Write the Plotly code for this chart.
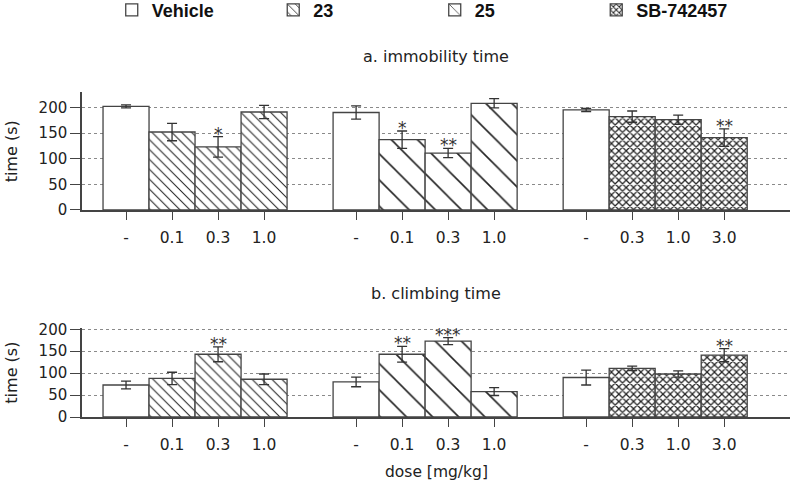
import plotly.graph_objects as go

# ---------------- data ----------------
series_names = ["Vehicle", "23", "25", "SB-742457"]
dose_labels_23 = ["0.1", "0.3", "1.0"]
dose_labels_25 = ["0.1", "0.3", "1.0"]
dose_labels_sb = ["0.3", "1.0", "3.0"]

# a. immobility time  (vehicle in each of the 3 experiments)
immob_vehicle = [202, 190, 195]
immob_vehicle_err = [3, 13, 3]
immob_23 = [152, 123, 191]
immob_23_err = [17, 20, 13]
immob_25 = [137, 111, 208]
immob_25_err = [17, 9, 9]
immob_sb = [182, 176, 141]
immob_sb_err = [11, 9, 17]
immob_sig_23 = ["", "*", ""]
immob_sig_25 = ["*", "**", ""]
immob_sig_sb = ["", "", "**"]

# b. climbing time
climb_vehicle = [73, 80, 90]
climb_vehicle_err = [9, 11, 17]
climb_23 = [88, 143, 86]
climb_23_err = [14, 17, 12]
climb_25 = [143, 173, 58]
climb_25_err = [18, 8, 9]
climb_sb = [111, 98, 141]
climb_sb_err = [5, 7, 15]
climb_sig_23 = ["", "**", ""]
climb_sig_25 = ["**", "***", ""]
climb_sig_sb = ["", "", "**"]

# ---------------- positions (layout) ----------------
GROUP_STEP = 5
veh_x = [g * GROUP_STEP for g in range(3)]
x23 = [0 * GROUP_STEP + i for i in (1, 2, 3)]
x25 = [1 * GROUP_STEP + i for i in (1, 2, 3)]
xsb = [2 * GROUP_STEP + i for i in (1, 2, 3)]
tickvals = sorted(veh_x + x23 + x25 + xsb)
ticktext = ["-"] + dose_labels_23 + ["-"] + dose_labels_25 + ["-"] + dose_labels_sb

EDGE = "#444444"
ERRC = "#333333"
FONT = "DejaVu Sans"

styles = {
    "Vehicle": dict(shape="", size=8, solidity=0.2),
    "23": dict(shape="\\", size=7, solidity=0.15),
    "25": dict(shape="\\", size=18.5, solidity=0.085),
    "SB-742457": dict(shape="x", size=5.2, solidity=0.42),
}

fig = go.Figure()


def add_bars(name, xs, ys, errs, yaxis, showlegend):
    st = styles[name]
    fig.add_trace(go.Bar(
        x=xs, y=ys, width=1, name=name, showlegend=showlegend,
        xaxis="x" if yaxis == "y" else "x2", yaxis=yaxis,
        legendgroup=name,
        marker=dict(
            color="white",
            line=dict(color=EDGE, width=1.3),
            pattern=dict(shape=st["shape"], size=st["size"], solidity=st["solidity"],
                         fgcolor="#222222", fgopacity=1, bgcolor="white",
                         fillmode="overlay"),
        ),
        error_y=dict(type="data", array=errs, visible=True, color=ERRC,
                     thickness=1.3, width=5),
    ))


for yaxis, data, show in [
    ("y", (immob_vehicle, immob_vehicle_err, immob_23, immob_23_err,
           immob_25, immob_25_err, immob_sb, immob_sb_err), True),
    ("y2", (climb_vehicle, climb_vehicle_err, climb_23, climb_23_err,
            climb_25, climb_25_err, climb_sb, climb_sb_err), False),
]:
    v, ve, a, ae, b, be, s, se = data
    add_bars("Vehicle", veh_x, v, ve, yaxis, show)
    add_bars("23", x23, a, ae, yaxis, show)
    add_bars("25", x25, b, be, yaxis, show)
    add_bars("SB-742457", xsb, s, se, yaxis, show)

# significance asterisks
annotations = []
for yref, xref, groups in [
    ("y", "x", [(x23, immob_23, immob_23_err, immob_sig_23),
                (x25, immob_25, immob_25_err, immob_sig_25),
                (xsb, immob_sb, immob_sb_err, immob_sig_sb)]),
    ("y2", "x2", [(x23, climb_23, climb_23_err, climb_sig_23),
                  (x25, climb_25, climb_25_err, climb_sig_25),
                  (xsb, climb_sb, climb_sb_err, climb_sig_sb)]),
]:
    for xs, ys, es, sigs in groups:
        for xx, yy, ee, sg in zip(xs, ys, es, sigs):
            if sg:
                annotations.append(dict(
                    x=xx, y=yy + ee, xref=xref, yref=yref, text=sg,
                    showarrow=False, yanchor="bottom", yshift=-9,
                    font=dict(family=FONT, size=17, color="#333333")))

# titles / axis labels
TXT = "#222222"
annotations += [
    dict(text="a. immobility time", x=0.5, y=1.108, xref="paper", yref="paper",
         showarrow=False, xanchor="center", yanchor="middle",
         font=dict(family=FONT, size=16, color=TXT)),
    dict(text="b. climbing time", x=0.5, y=0.3815, xref="paper", yref="paper",
         showarrow=False, xanchor="center", yanchor="middle",
         font=dict(family=FONT, size=16, color=TXT)),
    dict(text="dose [mg/kg]", x=0.5, y=-0.169, xref="paper", yref="paper",
         showarrow=False, xanchor="center", yanchor="middle",
         font=dict(family=FONT, size=15.5, color=TXT)),
    dict(text="time (s)", x=-0.1, y=0.818, xref="paper", yref="paper",
         showarrow=False, xanchor="center", yanchor="middle", textangle=-90,
         font=dict(family=FONT, size=16, color=TXT)),
    dict(text="time (s)", x=-0.1, y=0.137, xref="paper", yref="paper",
         showarrow=False, xanchor="center", yanchor="middle", textangle=-90,
         font=dict(family=FONT, size=16, color=TXT)),
]

xcommon = dict(range=[-0.957, 14.43], tickvals=tickvals, ticktext=ticktext,
               showgrid=False, zeroline=False, showline=True, linecolor=EDGE,
               linewidth=1.5, ticks="outside", ticklen=8, tickcolor=EDGE,
               tickwidth=1.3, ticklabelstandoff=5,
               tickfont=dict(family=FONT, size=15.5, color=TXT))
ycommon = dict(showgrid=True, gridcolor="#8a8a8a", griddash="dot", gridwidth=1,
               zeroline=False, showline=True, linecolor=EDGE, linewidth=1.5,
               ticks="outside", ticklen=10, tickcolor=EDGE, tickwidth=1.3,
               tickvals=[0, 50, 100, 150, 200],
               tickfont=dict(family=FONT, size=15, color=TXT))

TOP_DOM = [0.637, 1.0]
BOT_DOM = [0.0, 0.274]

fig.update_layout(
    width=793, height=486,
    margin=dict(l=82, r=3, t=92, b=69, autoexpand=False),
    paper_bgcolor="white", plot_bgcolor="white",
    barmode="overlay",
    showlegend=True,
    legend=dict(orientation="h", x=0.042, xanchor="left", y=1.252, yanchor="middle",
                entrywidth=116.5, entrywidthmode="pixels",
                font=dict(family="Liberation Sans", size=18, color="#111", weight="bold"),
                bgcolor="rgba(0,0,0,0)", traceorder="normal", itemclick=False),
    xaxis=dict(domain=[0, 1], anchor="y", **xcommon),
    yaxis=dict(domain=TOP_DOM, anchor="x", range=[0, 230], **ycommon),
    xaxis2=dict(domain=[0, 1], anchor="y2", **xcommon),
    yaxis2=dict(domain=BOT_DOM, anchor="x2", range=[0, 203], **ycommon),
    # inside tick marks so the y ticks cross the axis line
    yaxis3=dict(overlaying="y", anchor="x", range=[0, 230], tickvals=[0, 50, 100, 150, 200],
                ticks="inside", ticklen=8, tickcolor=EDGE, tickwidth=1.3,
                showticklabels=False, showgrid=False, showline=False, zeroline=False),
    yaxis4=dict(overlaying="y2", anchor="x2", range=[0, 203], tickvals=[0, 50, 100, 150, 200],
                ticks="inside", ticklen=8, tickcolor=EDGE, tickwidth=1.3,
                showticklabels=False, showgrid=False, showline=False, zeroline=False),
    annotations=annotations,
)

# remove the default 8px page margin so the figure fills the window from its corner
fig.write_html("out.html", config={"displayModeBar": False},
               post_script="document.body.style.margin='0px';")
